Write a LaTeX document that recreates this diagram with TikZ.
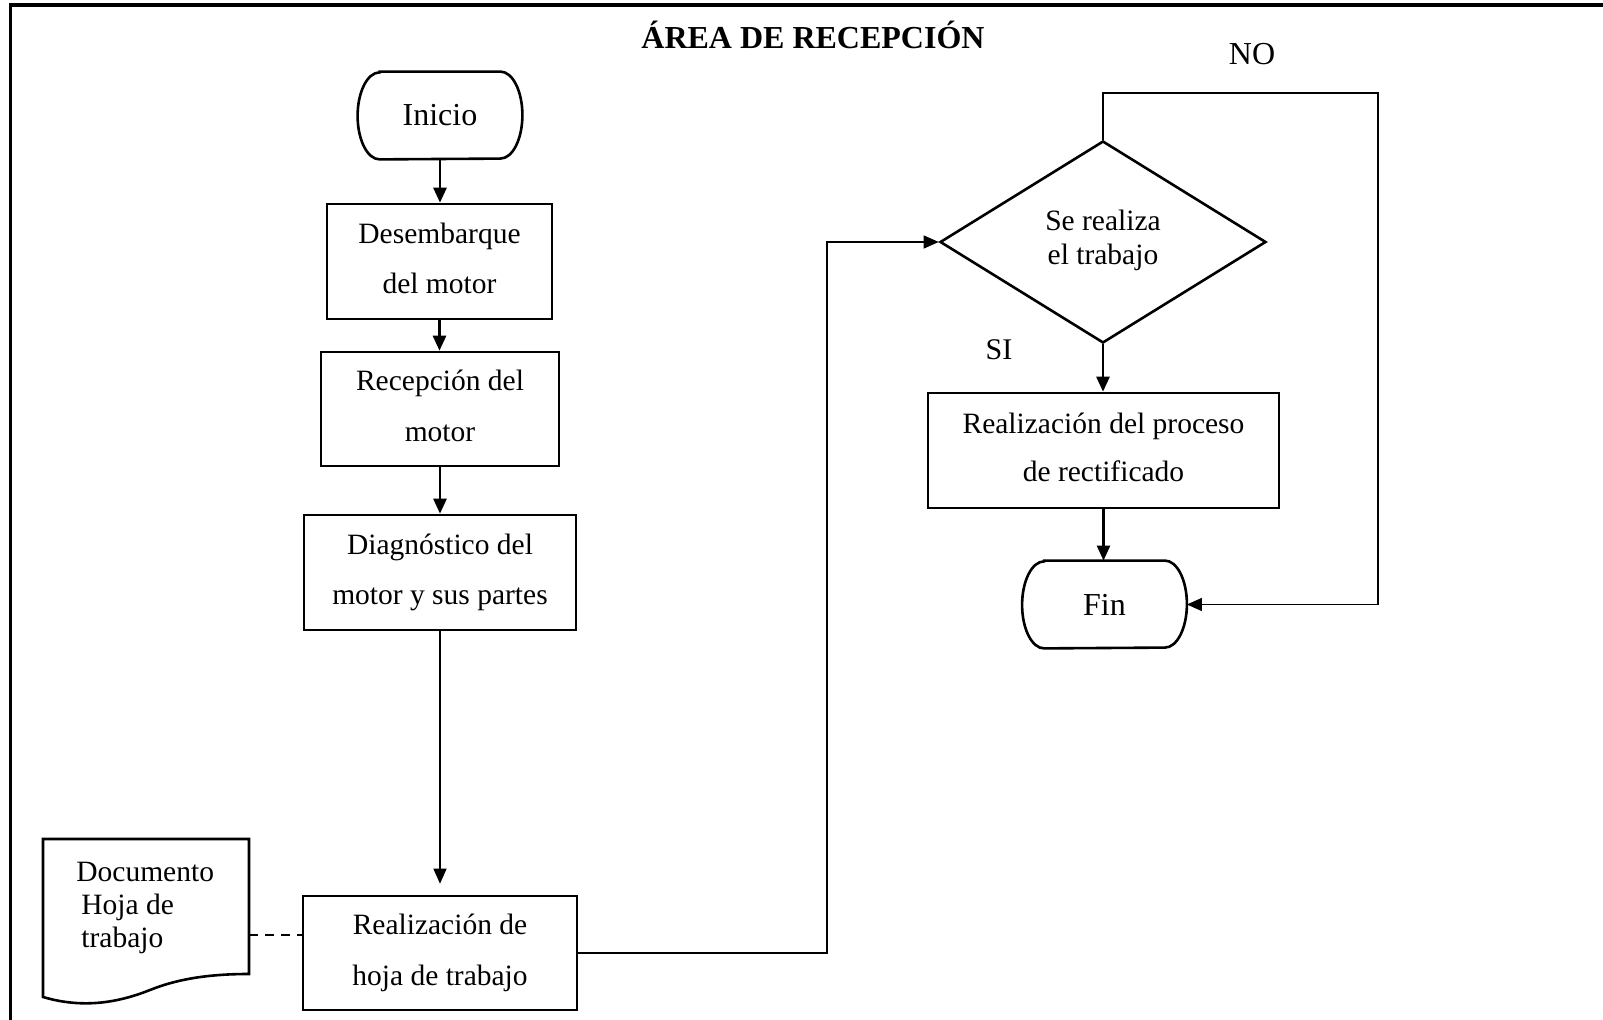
\documentclass[tikz,border=0pt]{standalone}
\usepackage{fontspec}
\setmainfont{Liberation Serif}
\usetikzlibrary{arrows.meta,shapes.geometric}
\begin{document}
\begin{tikzpicture}[x=0.5pt,y=-0.5pt,
  boxline/.style={line width=1.3pt},
  procbox/.style={draw,boxline,rectangle,inner sep=0pt,align=center,font=\fontsize{14.75pt}{25.35pt}\selectfont},
  termbox/.style={inner sep=0pt,minimum width=82pt,minimum height=43.5pt,font=\fontsize{16pt}{19pt}\selectfont},
  decbox/.style={draw,boxline,diamond,inner sep=0pt,align=center,minimum width=163pt,minimum height=101pt,aspect=1.6,font=\fontsize{14.75pt}{17pt}\selectfont},
  thickarrow/.style={line width=1.3pt,-{Triangle[length=7.5pt,width=6.5pt]}},
  thinarrow/.style={line width=0.65pt,-{Triangle[length=7.5pt,width=6.5pt]}},
  thinline/.style={line width=0.65pt},
  lbl/.style={inner sep=0pt,anchor=base,font=\fontsize{16pt}{19pt}\selectfont},
  doclbl/.style={inner sep=0pt,anchor=base west,font=\fontsize{14.75pt}{17pt}\selectfont}
]
\useasboundingbox (0,0) rectangle (1603,1020);

% frame
\draw[line width=1.75pt] (10.7,1021) -- (10.7,5) -- (1604,5);

% title and labels
\node[lbl,font=\bfseries\fontsize{16pt}{19pt}\selectfont] (title) at (813,49) {ÁREA DE RECEPCIÓN};
\node[lbl] (nolbl) at (1252,65) {NO};
\node[lbl,font=\fontsize{15pt}{18pt}\selectfont] (silbl) at (999,360) {SI};

% left column
\node[termbox] (ini) at (440,115.5) {Inicio};
\draw[boxline] ([xshift=11pt]ini.north west) -- ([xshift=-11pt]ini.north east)
  arc[start angle=90,end angle=-90,x radius=11pt,y radius=21.75pt]
  -- ([xshift=11pt]ini.south west)
  arc[start angle=270,end angle=90,x radius=11pt,y radius=21.75pt] -- cycle;

\node[procbox,minimum width=112.5pt,minimum height=57.5pt] (des) at (439.5,261.5) {Desembarque\\del motor\vphantom{g}};
\node[procbox,minimum width=119pt,minimum height=57pt] (rec) at (440,409) {Recepción del\\motor\vphantom{g}};
\node[procbox,minimum width=136pt,minimum height=57.5pt] (diag) at (440,572.5) {Diagnóstico del\\motor y sus partes};
\node[procbox,minimum width=137pt,minimum height=57pt] (hoja) at (440,953) {Realización de\\hoja de trabajo};

% document
\draw[boxline] (43,839) -- (249,839) -- (249,974)
  .. controls (205,974) and (175,980) .. (150,990)
  .. controls (115,1004) and (80,1008) .. (43,997) -- cycle;
\node[doclbl] (doc1) at (76,882) {Documento};
\node[doclbl] (doc2) at (81,915) {Hoja de};
\node[doclbl] (doc3) at (81,948) {trabajo};
\coordinate (docR) at (249,935);
\draw[thinline,dash pattern=on 4.5pt off 3.5pt] (docR) -- (docR -| hoja.west);

% right column
\node[decbox] (dec) at (1103,242) {Se realiza\\el trabajo\rule[-4.7pt]{0pt}{0pt}};
\node[procbox,minimum width=175.5pt,minimum height=57.5pt,font=\fontsize{14.75pt}{24pt}\selectfont] (proc) at (1103.5,450.5) {Realización del proceso\\de rectificado\vphantom{g}};
\node[termbox] (fin) at (1104.5,604.5) {Fin};
\draw[boxline] ([xshift=11pt]fin.north west) -- ([xshift=-11pt]fin.north east)
  arc[start angle=90,end angle=-90,x radius=11pt,y radius=21.75pt]
  -- ([xshift=11pt]fin.south west)
  arc[start angle=270,end angle=90,x radius=11pt,y radius=21.75pt] -- cycle;

% connectors
\draw[thickarrow] (ini.south) -- (ini.south |- des.north);
\draw[thickarrow] (des.south) -- (des.south |- rec.north);
\draw[thickarrow] (rec.south) -- (rec.south |- diag.north);
\draw[thinarrow] (diag.south) -- ([yshift=5.5pt]diag.south |- hoja.north);

\coordinate (turn) at (827,242);
\draw[thinarrow] (hoja.east) -| (turn) -- (dec.west);

\coordinate (noTop) at (1378,93);
\draw[thinarrow] (dec.north) |- (noTop) |- (fin.east);

\draw[thickarrow] (dec.south) -- (dec.south |- proc.north);
\draw[thickarrow] (proc.south) -- (proc.south |- fin.north);
\end{tikzpicture}
\end{document}
